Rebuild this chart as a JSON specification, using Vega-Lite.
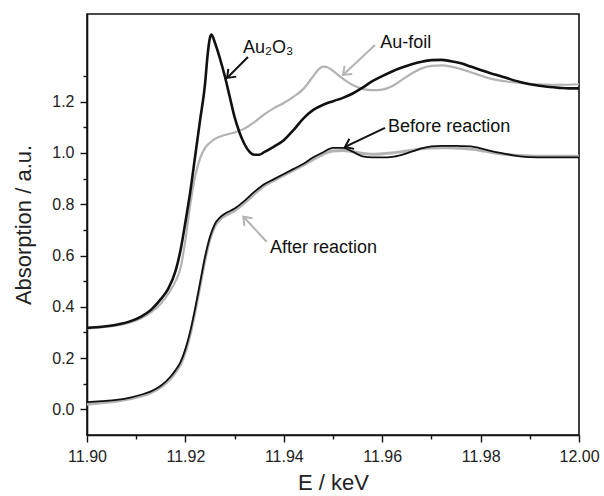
{
  "$schema": "https://vega.github.io/schema/vega-lite/v6.json",
  "width": 492,
  "height": 421,
  "autosize": "none",
  "padding": {"left": 87, "top": 14, "right": 25, "bottom": 61},
  "background": "white",
  "config": {
    "view": {"stroke": "#111", "strokeWidth": 1.6},
    "font": "Liberation Sans",
    "axis": {
      "labelFont": "Liberation Sans", "titleFont": "Liberation Sans",
      "labelFontSize": 16, "labelColor": "#222", "titleFontSize": 22, "titleColor": "#222",
      "titleFontWeight": "normal", "domainColor": "#111", "domainWidth": 1.6,
      "ticks": true, "tickColor": "#111", "tickWidth": 1.4, "tickOpacity": 1, "grid": false
    }
  },
  "datasets": {
    "curves": [
      {"s":"Au2O3","E":11.900,"A":0.318},{"s":"Au2O3","E":11.903,"A":0.322},{"s":"Au2O3","E":11.906,"A":0.330},{"s":"Au2O3","E":11.909,"A":0.345},{"s":"Au2O3","E":11.911,"A":0.362},{"s":"Au2O3","E":11.913,"A":0.388},{"s":"Au2O3","E":11.915,"A":0.430},{"s":"Au2O3","E":11.9165,"A":0.47},{"s":"Au2O3","E":11.918,"A":0.54},{"s":"Au2O3","E":11.919,"A":0.62},{"s":"Au2O3","E":11.920,"A":0.73},{"s":"Au2O3","E":11.921,"A":0.85},{"s":"Au2O3","E":11.922,"A":0.99},{"s":"Au2O3","E":11.923,"A":1.13},{"s":"Au2O3","E":11.924,"A":1.27},{"s":"Au2O3","E":11.9245,"A":1.38},{"s":"Au2O3","E":11.925,"A":1.45},{"s":"Au2O3","E":11.9253,"A":1.462},{"s":"Au2O3","E":11.926,"A":1.43},{"s":"Au2O3","E":11.927,"A":1.37},{"s":"Au2O3","E":11.928,"A":1.30},{"s":"Au2O3","E":11.929,"A":1.22},{"s":"Au2O3","E":11.930,"A":1.14},{"s":"Au2O3","E":11.931,"A":1.08},{"s":"Au2O3","E":11.932,"A":1.035},{"s":"Au2O3","E":11.933,"A":1.005},{"s":"Au2O3","E":11.934,"A":0.993},{"s":"Au2O3","E":11.935,"A":0.993},{"s":"Au2O3","E":11.936,"A":1.003},{"s":"Au2O3","E":11.938,"A":1.025},{"s":"Au2O3","E":11.940,"A":1.05},{"s":"Au2O3","E":11.942,"A":1.09},{"s":"Au2O3","E":11.944,"A":1.135},{"s":"Au2O3","E":11.946,"A":1.168},{"s":"Au2O3","E":11.948,"A":1.188},{"s":"Au2O3","E":11.950,"A":1.202},{"s":"Au2O3","E":11.952,"A":1.215},{"s":"Au2O3","E":11.954,"A":1.232},{"s":"Au2O3","E":11.956,"A":1.255},{"s":"Au2O3","E":11.958,"A":1.28},{"s":"Au2O3","E":11.960,"A":1.30},{"s":"Au2O3","E":11.962,"A":1.318},{"s":"Au2O3","E":11.964,"A":1.333},{"s":"Au2O3","E":11.966,"A":1.346},{"s":"Au2O3","E":11.968,"A":1.356},{"s":"Au2O3","E":11.970,"A":1.362},{"s":"Au2O3","E":11.972,"A":1.363},{"s":"Au2O3","E":11.974,"A":1.358},{"s":"Au2O3","E":11.976,"A":1.35},{"s":"Au2O3","E":11.978,"A":1.337},{"s":"Au2O3","E":11.980,"A":1.324},{"s":"Au2O3","E":11.982,"A":1.311},{"s":"Au2O3","E":11.984,"A":1.30},{"s":"Au2O3","E":11.986,"A":1.288},{"s":"Au2O3","E":11.988,"A":1.277},{"s":"Au2O3","E":11.990,"A":1.268},{"s":"Au2O3","E":11.992,"A":1.262},{"s":"Au2O3","E":11.994,"A":1.257},{"s":"Au2O3","E":11.996,"A":1.254},{"s":"Au2O3","E":11.998,"A":1.252},{"s":"Au2O3","E":12.000,"A":1.252},
      {"s":"Au-foil","E":11.900,"A":0.316},{"s":"Au-foil","E":11.903,"A":0.320},{"s":"Au-foil","E":11.906,"A":0.327},{"s":"Au-foil","E":11.909,"A":0.340},{"s":"Au-foil","E":11.911,"A":0.355},{"s":"Au-foil","E":11.913,"A":0.378},{"s":"Au-foil","E":11.915,"A":0.412},{"s":"Au-foil","E":11.9165,"A":0.45},{"s":"Au-foil","E":11.918,"A":0.50},{"s":"Au-foil","E":11.919,"A":0.55},{"s":"Au-foil","E":11.920,"A":0.66},{"s":"Au-foil","E":11.921,"A":0.80},{"s":"Au-foil","E":11.922,"A":0.91},{"s":"Au-foil","E":11.923,"A":0.98},{"s":"Au-foil","E":11.924,"A":1.02},{"s":"Au-foil","E":11.925,"A":1.04},{"s":"Au-foil","E":11.926,"A":1.055},{"s":"Au-foil","E":11.928,"A":1.07},{"s":"Au-foil","E":11.930,"A":1.08},{"s":"Au-foil","E":11.932,"A":1.095},{"s":"Au-foil","E":11.934,"A":1.12},{"s":"Au-foil","E":11.936,"A":1.15},{"s":"Au-foil","E":11.938,"A":1.175},{"s":"Au-foil","E":11.940,"A":1.195},{"s":"Au-foil","E":11.942,"A":1.22},{"s":"Au-foil","E":11.944,"A":1.25},{"s":"Au-foil","E":11.946,"A":1.30},{"s":"Au-foil","E":11.947,"A":1.325},{"s":"Au-foil","E":11.948,"A":1.337},{"s":"Au-foil","E":11.949,"A":1.333},{"s":"Au-foil","E":11.950,"A":1.32},{"s":"Au-foil","E":11.952,"A":1.29},{"s":"Au-foil","E":11.954,"A":1.265},{"s":"Au-foil","E":11.956,"A":1.25},{"s":"Au-foil","E":11.958,"A":1.245},{"s":"Au-foil","E":11.960,"A":1.247},{"s":"Au-foil","E":11.962,"A":1.26},{"s":"Au-foil","E":11.964,"A":1.285},{"s":"Au-foil","E":11.966,"A":1.31},{"s":"Au-foil","E":11.968,"A":1.33},{"s":"Au-foil","E":11.970,"A":1.34},{"s":"Au-foil","E":11.972,"A":1.342},{"s":"Au-foil","E":11.974,"A":1.337},{"s":"Au-foil","E":11.976,"A":1.327},{"s":"Au-foil","E":11.978,"A":1.315},{"s":"Au-foil","E":11.980,"A":1.302},{"s":"Au-foil","E":11.982,"A":1.29},{"s":"Au-foil","E":11.984,"A":1.282},{"s":"Au-foil","E":11.986,"A":1.277},{"s":"Au-foil","E":11.988,"A":1.273},{"s":"Au-foil","E":11.990,"A":1.27},{"s":"Au-foil","E":11.993,"A":1.267},{"s":"Au-foil","E":11.996,"A":1.266},{"s":"Au-foil","E":12.000,"A":1.268},
      {"s":"Before reaction","E":11.900,"A":0.028},{"s":"Before reaction","E":11.903,"A":0.032},{"s":"Before reaction","E":11.906,"A":0.037},{"s":"Before reaction","E":11.909,"A":0.047},{"s":"Before reaction","E":11.911,"A":0.057},{"s":"Before reaction","E":11.913,"A":0.07},{"s":"Before reaction","E":11.915,"A":0.092},{"s":"Before reaction","E":11.917,"A":0.128},{"s":"Before reaction","E":11.918,"A":0.153},{"s":"Before reaction","E":11.919,"A":0.184},{"s":"Before reaction","E":11.920,"A":0.235},{"s":"Before reaction","E":11.921,"A":0.305},{"s":"Before reaction","E":11.922,"A":0.395},{"s":"Before reaction","E":11.923,"A":0.495},{"s":"Before reaction","E":11.924,"A":0.595},{"s":"Before reaction","E":11.925,"A":0.673},{"s":"Before reaction","E":11.926,"A":0.723},{"s":"Before reaction","E":11.927,"A":0.748},{"s":"Before reaction","E":11.928,"A":0.763},{"s":"Before reaction","E":11.930,"A":0.783},{"s":"Before reaction","E":11.932,"A":0.813},{"s":"Before reaction","E":11.934,"A":0.848},{"s":"Before reaction","E":11.936,"A":0.878},{"s":"Before reaction","E":11.938,"A":0.898},{"s":"Before reaction","E":11.940,"A":0.918},{"s":"Before reaction","E":11.942,"A":0.938},{"s":"Before reaction","E":11.944,"A":0.958},{"s":"Before reaction","E":11.946,"A":0.983},{"s":"Before reaction","E":11.948,"A":1.003},{"s":"Before reaction","E":11.950,"A":1.02},{"s":"Before reaction","E":11.952,"A":1.02},{"s":"Before reaction","E":11.954,"A":1.005},{"s":"Before reaction","E":11.956,"A":0.987},{"s":"Before reaction","E":11.958,"A":0.983},{"s":"Before reaction","E":11.960,"A":0.983},{"s":"Before reaction","E":11.962,"A":0.985},{"s":"Before reaction","E":11.964,"A":0.993},{"s":"Before reaction","E":11.966,"A":1.005},{"s":"Before reaction","E":11.968,"A":1.018},{"s":"Before reaction","E":11.970,"A":1.026},{"s":"Before reaction","E":11.972,"A":1.028},{"s":"Before reaction","E":11.974,"A":1.028},{"s":"Before reaction","E":11.976,"A":1.027},{"s":"Before reaction","E":11.978,"A":1.026},{"s":"Before reaction","E":11.980,"A":1.018},{"s":"Before reaction","E":11.982,"A":1.008},{"s":"Before reaction","E":11.984,"A":1.0},{"s":"Before reaction","E":11.986,"A":0.993},{"s":"Before reaction","E":11.988,"A":0.987},{"s":"Before reaction","E":11.990,"A":0.984},{"s":"Before reaction","E":11.993,"A":0.983},{"s":"Before reaction","E":11.996,"A":0.983},{"s":"Before reaction","E":12.000,"A":0.983},
      {"s":"After reaction","E":11.900,"A":0.020},{"s":"After reaction","E":11.903,"A":0.026},{"s":"After reaction","E":11.906,"A":0.032},{"s":"After reaction","E":11.909,"A":0.042},{"s":"After reaction","E":11.911,"A":0.052},{"s":"After reaction","E":11.913,"A":0.065},{"s":"After reaction","E":11.915,"A":0.087},{"s":"After reaction","E":11.917,"A":0.12},{"s":"After reaction","E":11.918,"A":0.145},{"s":"After reaction","E":11.919,"A":0.175},{"s":"After reaction","E":11.920,"A":0.225},{"s":"After reaction","E":11.921,"A":0.295},{"s":"After reaction","E":11.922,"A":0.385},{"s":"After reaction","E":11.923,"A":0.485},{"s":"After reaction","E":11.924,"A":0.585},{"s":"After reaction","E":11.925,"A":0.665},{"s":"After reaction","E":11.926,"A":0.715},{"s":"After reaction","E":11.927,"A":0.74},{"s":"After reaction","E":11.928,"A":0.755},{"s":"After reaction","E":11.930,"A":0.775},{"s":"After reaction","E":11.932,"A":0.805},{"s":"After reaction","E":11.934,"A":0.84},{"s":"After reaction","E":11.936,"A":0.872},{"s":"After reaction","E":11.938,"A":0.893},{"s":"After reaction","E":11.940,"A":0.913},{"s":"After reaction","E":11.942,"A":0.933},{"s":"After reaction","E":11.944,"A":0.953},{"s":"After reaction","E":11.946,"A":0.975},{"s":"After reaction","E":11.948,"A":0.995},{"s":"After reaction","E":11.950,"A":1.008},{"s":"After reaction","E":11.952,"A":1.01},{"s":"After reaction","E":11.954,"A":1.005},{"s":"After reaction","E":11.956,"A":0.998},{"s":"After reaction","E":11.958,"A":0.995},{"s":"After reaction","E":11.960,"A":0.997},{"s":"After reaction","E":11.962,"A":1.0},{"s":"After reaction","E":11.964,"A":1.005},{"s":"After reaction","E":11.966,"A":1.01},{"s":"After reaction","E":11.968,"A":1.016},{"s":"After reaction","E":11.970,"A":1.019},{"s":"After reaction","E":11.972,"A":1.02},{"s":"After reaction","E":11.974,"A":1.02},{"s":"After reaction","E":11.976,"A":1.018},{"s":"After reaction","E":11.978,"A":1.015},{"s":"After reaction","E":11.980,"A":1.01},{"s":"After reaction","E":11.982,"A":1.003},{"s":"After reaction","E":11.984,"A":0.997},{"s":"After reaction","E":11.986,"A":0.993},{"s":"After reaction","E":11.988,"A":0.99},{"s":"After reaction","E":11.990,"A":0.988},{"s":"After reaction","E":11.993,"A":0.987},{"s":"After reaction","E":11.996,"A":0.987},{"s":"After reaction","E":12.000,"A":0.987}
    ],
    "labels": [
      {"s":"Au2O3","E":11.9317,"A":1.41,"t":"Au₂O₃"},
      {"s":"Au-foil","E":11.9596,"A":1.429,"t":"Au-foil"},
      {"s":"Before reaction","E":11.9612,"A":1.101,"t":"Before reaction"},
      {"s":"After reaction","E":11.9372,"A":0.629,"t":"After reaction"}
    ],
    "arrows": [
      {"s":"Au2O3","E":11.93272,"A":1.3746,"E2":11.92846,"A2":1.2926,"dir":135},
      {"s":"Au-foil","E":11.95854,"A":1.4214,"E2":11.95203,"A2":1.3043,"dir":137},
      {"s":"Before reaction","E":11.96057,"A":1.0975,"E2":11.95244,"A2":1.0234,"dir":155},
      {"s":"After reaction","E":11.93652,"A":0.6539,"E2":11.93177,"A2":0.7515,"dir":227}
    ]
  },
  "resolve": {"axis": {"x": "independent", "y": "independent"}},
  "layer": [
    {
      "data": {"name": "curves"},
      "transform": [{"filter": "datum.s === 'Au-foil'"}],
      "mark": {"type": "line", "strokeWidth": 2.2, "interpolate": "monotone"},
      "encoding": {
        "x": {"field": "E", "type": "quantitative", "scale": {"domain": [11.9, 12.0], "nice": false, "zero": false},
          "axis": {"orient": "bottom", "values": [11.9, 11.92, 11.94, 11.96, 11.98, 12.0], "format": ".2f", "ticks": true, "tickSize": 7, "tickColor": "#111", "tickWidth": 1.4, "labelPadding": 6, "title": "E / keV", "titlePadding": 8, "labelFlush": false}},
        "y": {"field": "A", "type": "quantitative", "scale": {"domain": [-0.1, 1.542], "nice": false, "zero": false},
          "axis": {"orient": "left", "values": [0, 0.2, 0.4, 0.6, 0.8, 1.0, 1.2], "format": ".1f", "ticks": true, "tickSize": 7, "tickColor": "#111", "tickWidth": 1.4, "labelPadding": 6, "title": "Absorption / a.u.", "titlePadding": 16}},
        "color": {"field": "s", "type": "nominal", "legend": null,
          "scale": {"domain": ["Au2O3", "Au-foil", "Before reaction", "After reaction"], "range": ["#111111", "#b3b3b3", "#111111", "#b3b3b3"]}}
      }
    },
    {
      "data": {"name": "curves"},
      "transform": [{"filter": "datum.s === 'Au2O3'"}],
      "mark": {"type": "line", "strokeWidth": 2.6, "interpolate": "monotone"},
      "encoding": {
        "x": {"field": "E", "type": "quantitative", "axis": null},
        "y": {"field": "A", "type": "quantitative", "axis": null},
        "color": {"field": "s", "type": "nominal", "legend": null}
      }
    },
    {
      "data": {"name": "curves"},
      "transform": [{"filter": "datum.s === 'After reaction'"}],
      "mark": {"type": "line", "strokeWidth": 3, "interpolate": "monotone"},
      "encoding": {
        "x": {"field": "E", "type": "quantitative", "axis": null},
        "y": {"field": "A", "type": "quantitative", "axis": null},
        "color": {"field": "s", "type": "nominal", "legend": null}
      }
    },
    {
      "data": {"name": "curves"},
      "transform": [{"filter": "datum.s === 'Before reaction'"}],
      "mark": {"type": "line", "strokeWidth": 1.8, "interpolate": "monotone"},
      "encoding": {
        "x": {"field": "E", "type": "quantitative", "axis": null},
        "y": {"field": "A", "type": "quantitative", "axis": null},
        "color": {"field": "s", "type": "nominal", "legend": null}
      }
    },
    {
      "data": {"name": "arrows"},
      "mark": {"type": "rule", "strokeWidth": 2},
      "encoding": {
        "x": {"field": "E", "type": "quantitative", "axis": null},
        "y": {"field": "A", "type": "quantitative", "axis": null},
        "x2": {"field": "E2"},
        "y2": {"field": "A2"},
        "color": {"field": "s", "type": "nominal", "legend": null}
      }
    },
    {
      "data": {"name": "arrows"},
      "mark": {"type": "point", "shape": "M-1,-0.75L0,0L-1,0.75", "filled": false, "size": 220, "strokeWidth": 2, "opacity": 1},
      "encoding": {
        "x": {"field": "E2", "type": "quantitative", "axis": null},
        "y": {"field": "A2", "type": "quantitative", "axis": null},
        "angle": {"field": "dir", "type": "quantitative", "scale": null},
        "color": {"field": "s", "type": "nominal", "legend": null}
      }
    },
    {
      "data": {"name": "labels"},
      "mark": {"type": "text", "align": "left", "baseline": "middle", "fontSize": 18, "font": "Liberation Sans", "color": "#111"},
      "encoding": {
        "x": {"field": "E", "type": "quantitative",
          "axis": {"orient": "bottom", "values": [11.91, 11.93, 11.95, 11.97, 11.99], "labels": false, "ticks": true, "tickSize": 4, "tickColor": "#111", "tickWidth": 1.4, "domain": false, "title": null}},
        "y": {"field": "A", "type": "quantitative",
          "axis": {"orient": "left", "values": [0.1, 0.3, 0.5, 0.7, 0.9, 1.1, 1.3], "labels": false, "ticks": true, "tickSize": 4, "tickColor": "#111", "tickWidth": 1.4, "domain": false, "title": null}},
        "text": {"field": "t"}
      }
    }
  ]
}
